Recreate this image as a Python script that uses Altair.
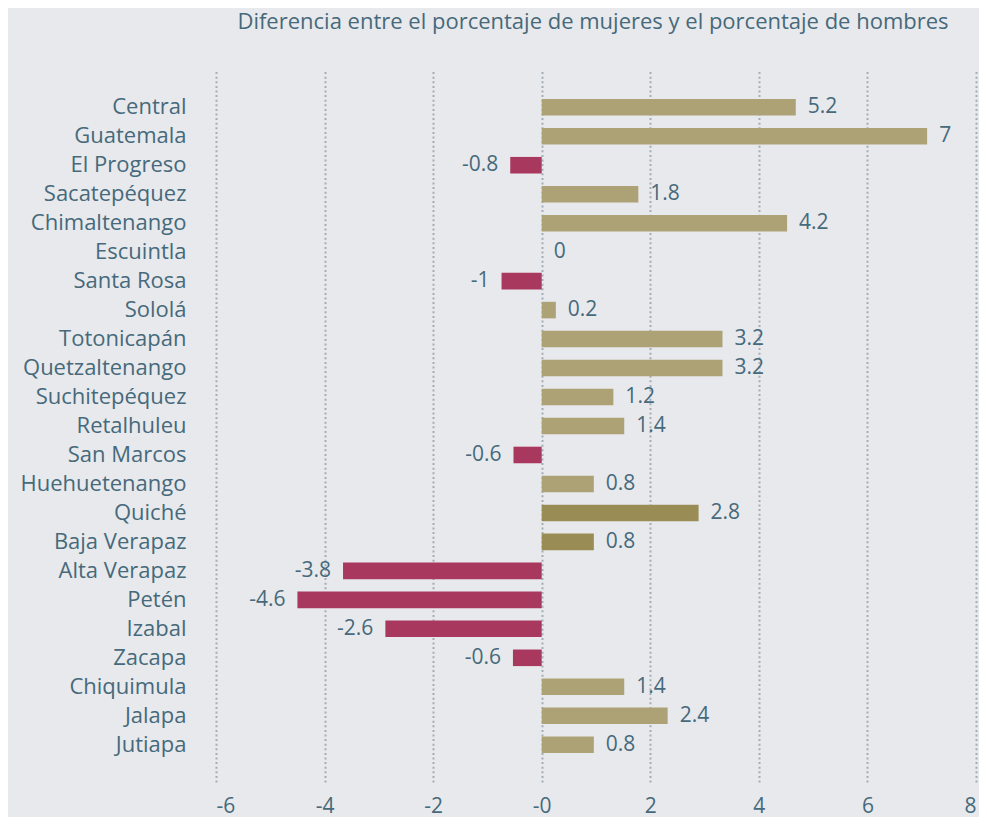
import altair as alt
import pandas as pd

departamentos = ["Central", "Guatemala", "El Progreso", "Sacatepéquez", "Chimaltenango",
                 "Escuintla", "Santa Rosa", "Sololá", "Totonicapán", "Quetzaltenango",
                 "Suchitepéquez", "Retalhuleu", "San Marcos", "Huehuetenango", "Quiché",
                 "Baja Verapaz", "Alta Verapaz", "Petén", "Izabal", "Zacapa",
                 "Chiquimula", "Jalapa", "Jutiapa"]
valores = [4.68, 7.10, -0.58, 1.78, 4.52, 0.0, -0.74, 0.26, 3.33, 3.33, 1.32, 1.52,
           -0.52, 0.96, 2.89, 0.96, -3.66, -4.50, -2.88, -0.53, 1.52, 2.32, 0.96]
etiquetas = ["5.2", "7", "-0.8", "1.8", "4.2", "0", "-1", "0.2", "3.2", "3.2", "1.2", "1.4",
             "-0.6", "0.8", "2.8", "0.8", "-3.8", "-4.6", "-2.6", "-0.6", "1.4", "2.4", "0.8"]
grupos = ["pos", "pos", "neg", "pos", "pos", "pos", "neg", "pos", "pos", "pos", "pos", "pos",
          "neg", "pos", "res", "res", "neg", "neg", "neg", "neg", "pos", "pos", "pos"]
ticks_x = [-6, -4, -2, 0, 2, 4, 6, 8]
titulo = "Diferencia entre el porcentaje de mujeres y el porcentaje de hombres"

df = pd.DataFrame({"depto": departamentos, "valor": valores,
                   "etiqueta": etiquetas, "grupo": grupos})

FONT = "Open Sans"
TXT = "#46697b"
FS = 21

y_enc = alt.Y("depto:N", sort=departamentos, title=None,
              scale=alt.Scale(paddingInner=0.428, paddingOuter=1),
              axis=alt.Axis(domain=False, ticks=False, labelPadding=30,
                            labelFont=FONT, labelFontSize=22, labelColor=TXT))
x_enc = alt.X("valor:Q", title=None,
              scale=alt.Scale(domain=[-6, 8], nice=False, zero=False),
              axis=alt.Axis(values=ticks_x, grid=True, domain=False, ticks=False,
                            gridColor="#a3adb8", gridDash=[2, 2.6], gridWidth=2,
                            labelPadding=13, labelFont=FONT, labelFontSize=FS,
                            labelColor=TXT,
                            labelExpr="datum.value === 0 ? '-0' : '' + datum.value"))

bars = alt.Chart(df).mark_bar().encode(
    x=x_enc, y=y_enc,
    color=alt.Color("grupo:N", legend=None,
                    scale=alt.Scale(domain=["pos", "res", "neg"],
                                    range=["#ada176", "#998c55", "#a9385f"])),
)

txt_pos = alt.Chart(df).transform_filter("datum.valor >= 0").mark_text(
    align="left", baseline="middle", dx=12, font=FONT, fontSize=FS, color=TXT
).encode(x="valor:Q", y=alt.Y("depto:N", sort=departamentos), text="etiqueta:N")

txt_neg = alt.Chart(df).transform_filter("datum.valor < 0").mark_text(
    align="right", baseline="middle", dx=-12, font=FONT, fontSize=FS, color=TXT
).encode(x="valor:Q", y=alt.Y("depto:N", sort=departamentos), text="etiqueta:N")

chart = alt.layer(bars, txt_pos, txt_neg).properties(
    width=760, height=712,
    autosize=alt.AutoSizeParams(type="none"),
    padding={"left": 208, "top": 62, "right": 3, "bottom": 35},
    background="#e8e9ec",
    title=alt.TitleParams(titulo, font=FONT, fontSize=22, fontWeight="normal",
                          color=TXT, anchor="middle", dx=-3, offset=36),
).configure_view(stroke=None)

chart.save("out.html", embed_options={"renderer": "svg", "actions": False})
